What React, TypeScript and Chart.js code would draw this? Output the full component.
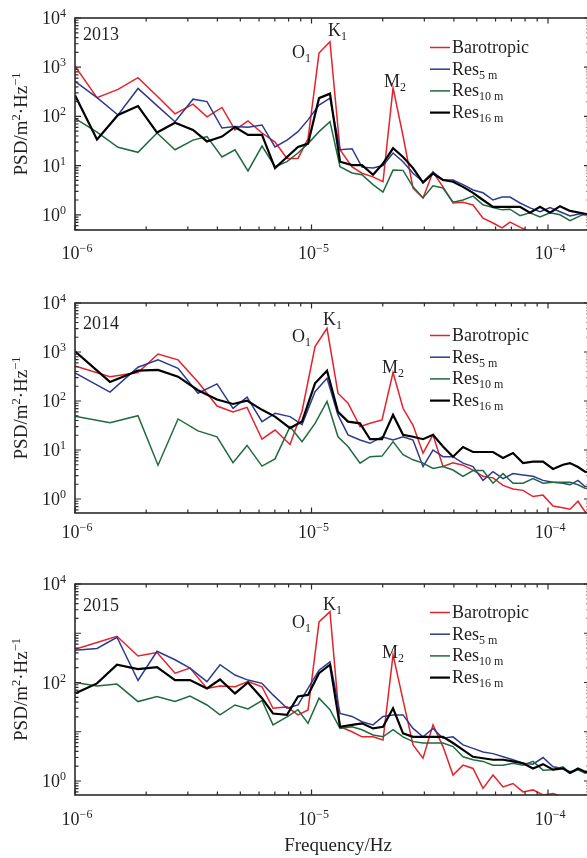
import React, { useEffect, useRef } from 'react';
import { Chart, registerables } from 'chart.js';

Chart.register(...registerables);

// ---------------- DATA ----------------
const seriesNames = ['Barotropic', 'Res', 'Res', 'Res'];
const seriesSubs = ['', '5 m', '10 m', '16 m'];
const years = ['2013', '2014', '2015'];
const tideLabels = [['O', '1'], ['K', '1'], ['M', '2']];
const xTickExps = [-6, -5, -4];
const yTickExps2013 = [0, 1, 2, 3, 4];
const yTickExps2014 = [0, 1, 2, 3, 4];
const yTickExps2015 = [0, 2, 4];

const freq2013 = [1.000e-6, 1.239e-6, 1.520e-6, 1.847e-6, 2.222e-6, 2.648e-6, 3.155e-6, 3.614e-6, 4.183e-6, 4.748e-6, 5.389e-6, 6.176e-6, 7.010e-6, 7.878e-6, 8.768e-6, 9.665e-6, 1.076e-5, 1.197e-5, 1.320e-5, 1.484e-5, 1.635e-5, 1.820e-5, 2.006e-5, 2.212e-5, 2.438e-5, 2.687e-5, 2.962e-5, 3.264e-5, 3.597e-5, 3.966e-5, 4.371e-5, 4.818e-5, 5.311e-5, 5.854e-5, 6.391e-5, 6.907e-5, 7.614e-5, 8.393e-5, 9.252e-5, 1.020e-4, 1.124e-4, 1.239e-4, 1.366e-4, 1.505e-4];
const baro2013 = [1050, 240, 355, 615, 260, 113, 178, 98, 152, 53, 81, 46, 30, 14, 14, 35, 1940, 3300, 21, 9.4, 7, 5.9, 4.7, 380, 40, 3.5, 2.2, 7.4, 3.7, 1.74, 1.8, 1.58, 0.85, 0.68, 0.54, 0.71, 0.56, 0.45, null, null, null, null, null, null];
const res5m2013 = [515, 240, 107, 370, 166, 78, 224, 200, 58, 62, 60, 67, 24, 33, 49, 85, 170, 235, 21, 22, 9.3, 8.9, 10, 18, 12, 7, 4.7, 7.4, 5.1, 5.1, 4.1, 3.2, 2.8, 2.0, 2.3, 2.3, 1.74, 1.38, 1.15, 1.4, 1.15, 0.95, 1.05, 1.0];
const res10m2013 = [91, 48, 23.5, 18.6, 46, 21, 33, 39, 15, 21, 7.8, 25, 9.5, 12, 18, 28, 49, 78, 9.5, 7.1, 6.5, 4.1, 2.9, 8.1, 8, 3.7, 2.2, 3.9, 3.5, 1.8, 2.0, 2.4, 1.6, 1.4, 1.26, 1.3, 0.96, 1.1, 0.9, 1.1, 1.0, 0.76, 0.95, 1.1];
const res16m2013 = [270, 34, 107, 162, 47, 74, 53, 31, 39, 61, 42, 42, 8.9, 15, 24, 28, 235, 290, 12, 10.2, 10.2, 6.5, 11, 22.5, 15, 8.9, 4.5, 6.9, 5.1, 4.7, 3.7, 2.8, 2.0, 1.45, 1.45, 1.45, 1.45, 1.1, 1.45, 1.1, 1.5, 1.2, 1.1, 1.0];

const freq2014 = [1.000e-6, 1.406e-6, 1.847e-6, 2.244e-6, 2.727e-6, 3.312e-6, 3.985e-6, 4.657e-6, 5.339e-6, 6.176e-6, 7.010e-6, 8.113e-6, 9.118e-6, 1.035e-5, 1.163e-5, 1.294e-5, 1.427e-5, 1.604e-5, 1.768e-5, 1.987e-5, 2.212e-5, 2.438e-5, 2.687e-5, 2.962e-5, 3.264e-5, 3.597e-5, 3.966e-5, 4.371e-5, 4.818e-5, 5.311e-5, 5.854e-5, 6.453e-5, 7.112e-5, 7.841e-5, 8.643e-5, 9.526e-5, 1.050e-4, 1.157e-4, 1.239e-4, 1.339e-4, 1.434e-4, 1.535e-4];
const baro2014 = [516, 314, 380, 910, 690, 245, 79, 60, 74, 16.6, 25.5, 13, 62, 1290, 3040, 144, 90, 30, 35, 41, 380, 71, 32, 8.6, 20.4, 4.6, 5.5, 4.9, 3.9, 2.9, 2.7, 1.9, 1.6, 1.5, 1.12, 1.2, 0.72, 0.66, 0.62, 0.9, 0.55, 0.45];
const res5m2014 = [373, 152, 490, 690, 466, 144, 223, 71, 120, 38, 56, 48, 33, 155, 290, 52, 20.4, 16, 13.7, 18.6, 16, 18.6, 16, 4.6, 10, 7.3, 7.3, 5.4, 4.6, 2.4, 3.6, 2.6, 3.3, 3.1, 2.9, 2.4, 2.2, 2.1, 1.95, 2.4, 1.8, 1.8];
const res10m2014 = [49, 36, 50, 4.9, 43, 24.5, 18.6, 5.5, 12.4, 4.7, 6.6, 30, 14.8, 35, 98, 18.6, 11.8, 5.4, 7.3, 7.5, 14.8, 8, 6.3, 5.4, 4.2, 4.6, 3.9, 2.9, 3.8, 3.8, 2.1, 3.3, 2.1, 2.1, 2.6, 2.1, 2.2, 2.2, 2.2, 1.95, 1.66, 1.6];
const res16m2014 = [1030, 245, 415, 430, 314, 166, 107, 87, 102, 66, 48, 28, 38, 230, 415, 60, 38, 35, 16.6, 16.6, 52, 20.4, 18.6, 16.6, 20.4, 11.8, 7.3, 11.5, 9.1, 9.1, 9.1, 6.9, 8.7, 5.4, 5.8, 5.8, 4.1, 5.0, 5.4, 4.5, 3.6, 3.5];

const freq2015 = [1.000e-6, 1.239e-6, 1.505e-6, 1.847e-6, 2.222e-6, 2.648e-6, 3.064e-6, 3.614e-6, 4.104e-6, 4.748e-6, 5.389e-6, 6.176e-6, 6.874e-6, 7.878e-6, 8.768e-6, 9.665e-6, 1.076e-5, 1.197e-5, 1.320e-5, 1.484e-5, 1.635e-5, 1.820e-5, 2.006e-5, 2.212e-5, 2.438e-5, 2.687e-5, 2.962e-5, 3.264e-5, 3.597e-5, 3.966e-5, 4.371e-5, 4.818e-5, 5.311e-5, 5.854e-5, 6.453e-5, 7.112e-5, 7.841e-5, 8.643e-5, 9.526e-5, 1.050e-4, 1.157e-4, 1.239e-4, 1.339e-4, 1.434e-4, 1.535e-4];
const baro2015 = [470, 650, 870, 345, 405, 155, 196, 76, 85, 82, 104, 82, 30, 32, 22, 27.6, 1700, 2750, 12.6, 10, 7.9, 7.9, 6.8, 365, 44, 5.4, 2.9, 13.8, 5.0, 1.32, 2.1, 1.8, 0.71, 1.32, 0.76, 0.89, 0.6, 0.66, 0.52, 0.56, 0.48, null, null, null, null];
const res5m2015 = [450, 490, 830, 110, 430, 290, 196, 104, 230, 142, 112, 96, 56, 30, 35, 76, 178, 263, 23.5, 20.5, 16, 13.8, 20.4, 22, 22, 11.7, 7.9, 11.7, 7.4, 7.9, 5.4, 4.6, 3.9, 3.6, 3.1, 2.7, 2.3, 2.2, 3.0, 1.95, 1.8, 1.55, 1.7, 1.45, 1.5];
const res10m2015 = [100, 85, 93, 41, 52, 41, 53, 35, 22, 35, 29, 43, 13.8, 20, 28, 14.8, 48, 28, 11.7, 12.6, 11, 8.6, 7.9, 11, 7.9, 6.3, 5.9, 5.9, 5.9, 5.0, 3.1, 2.7, 2.5, 2.1, 2.1, 2.3, 2.1, 2.5, 1.66, 1.7, 1.95, 1.45, 1.7, 1.45, 1.6];
const res16m2015 = [60, 96, 230, 187, 205, 112, 112, 76, 115, 60, 100, 48, 23.5, 22, 52, 56, 155, 230, 12.6, 13.8, 14.8, 11.7, 12.6, 30, 9.3, 7.9, 7.9, 7.9, 7.9, 5.9, 4.3, 3.1, 2.9, 2.7, 2.7, 2.5, 2.3, 1.8, 2.2, 1.7, 1.8, 1.45, 1.8, 1.55, 1.5];

const panelData = [
  { freq: freq2013, series: [baro2013, res5m2013, res10m2013, res16m2013], yTicks: yTickExps2013 },
  { freq: freq2014, series: [baro2014, res5m2014, res10m2014, res16m2014], yTicks: yTickExps2014 },
  { freq: freq2015, series: [baro2015, res5m2015, res10m2015, res16m2015], yTicks: yTickExps2015 },
];

// ---------------- STYLE / LAYOUT ----------------
const FONT = '"Liberation Serif", "Times New Roman", Times, serif';
const TEXT = '#231f20';
const seriesColors = ['#e3232c', '#2e3a8c', '#1f6a3e', '#000000'];
const seriesWidths = [1.5, 1.5, 1.5, 2.2];
const CANVAS_W = 600;
const X_MIN = 1e-6;
const X_MAX = 1.505e-4;

const layouts = [
  { top: 0, height: 280, padTop: 18, padBottom: 50, yMin: 0.491, yearBase: 40, legendBase: 53, xLabBase: 29,
    ann: [[292, 58], [328, 36], [384, 87]], xTitle: false },
  { top: 280, height: 280, padTop: 23, padBottom: 47, yMin: 0.518, yearBase: 49, legendBase: 61, xLabBase: 25,
    ann: [[292, 62], [323, 45], [382, 93]], xTitle: false },
  { top: 560, height: 298, padTop: 24, padBottom: 63, yMin: 0.52, yearBase: 51, legendBase: 58, xLabBase: 30,
    ann: [[292, 68], [323, 50], [382, 98]], xTitle: true },
];

type Seg = { t: string; size: number; dy: number };

function richWidth(ctx: CanvasRenderingContext2D, segs: Seg[]) {
  let w = 0;
  for (const s of segs) {
    ctx.font = `${s.size}px ${FONT}`;
    w += ctx.measureText(s.t).width;
  }
  return w;
}

function drawRich(ctx: CanvasRenderingContext2D, segs: Seg[], x: number, y: number) {
  let cx = x;
  ctx.textAlign = 'left';
  ctx.textBaseline = 'alphabetic';
  for (const s of segs) {
    ctx.font = `${s.size}px ${FONT}`;
    ctx.fillText(s.t, cx, y + s.dy);
    cx += ctx.measureText(s.t).width;
  }
}

function pow10Segs(e: number): Seg[] {
  const exp = e < 0 ? '\u2212' + String(-e) : String(e);
  return [{ t: '10', size: 18, dy: 0 }, { t: exp, size: 12, dy: -7 }];
}

function makePlugin(idx: number) {
  const L = layouts[idx];
  return {
    id: 'psdFrame' + idx,
    afterDatasetsDraw(chart: any) {
      const ctx: CanvasRenderingContext2D = chart.ctx;
      const { left, right, top, bottom } = chart.chartArea;
      const xs = chart.scales.x;
      const ys = chart.scales.y;
      ctx.save();
      // frame
      ctx.strokeStyle = '#2b2b2b';
      ctx.lineWidth = 1.6;
      ctx.strokeRect(left, top, right - left, bottom - top);
      // x ticks
      ctx.lineWidth = 1.2;
      for (let k = -6; k <= -4; k++) {
        for (let m = 1; m <= 9; m++) {
          const f = m * Math.pow(10, k);
          if (f < X_MIN * 0.999 || f > X_MAX) continue;
          const px = xs.getPixelForValue(f);
          const len = m === 1 ? 5.5 : 3.5;
          ctx.beginPath();
          ctx.moveTo(px, bottom); ctx.lineTo(px, bottom - len);
          ctx.moveTo(px, top); ctx.lineTo(px, top + len);
          ctx.stroke();
        }
      }
      // y ticks
      for (let k = -1; k <= 4; k++) {
        for (let m = 1; m <= 9; m++) {
          const v = m * Math.pow(10, k);
          if (v < L.yMin || v > 1e4 * 1.001) continue;
          const py = ys.getPixelForValue(v);
          const len = m === 1 ? 6 : 3.5;
          ctx.beginPath();
          ctx.moveTo(left, py); ctx.lineTo(left + len, py);
          ctx.moveTo(right, py); ctx.lineTo(right - len, py);
          ctx.stroke();
        }
      }
      ctx.fillStyle = TEXT;
      // y tick labels
      for (const e of panelData[idx].yTicks) {
        const py = ys.getPixelForValue(Math.pow(10, e));
        const segs = pow10Segs(e);
        const w = richWidth(ctx, segs);
        drawRich(ctx, segs, 66 - w, py + 6);
      }
      // x tick labels
      for (const e of xTickExps) {
        const px = xs.getPixelForValue(Math.pow(10, e));
        const segs = pow10Segs(e);
        const w = richWidth(ctx, segs);
        drawRich(ctx, segs, px - w / 2 + 2, bottom + L.xLabBase);
      }
      // y title (rotated)
      const tSegs: Seg[] = [
        { t: 'PSD/m', size: 19, dy: 0 },
        { t: '2', size: 12.5, dy: -7 },
        { t: '\u00b7Hz', size: 19, dy: 0 },
        { t: '\u22121', size: 12.5, dy: -7 },
      ];
      const tw = richWidth(ctx, tSegs);
      ctx.save();
      ctx.translate(27, (top + bottom) / 2);
      ctx.rotate(-Math.PI / 2);
      drawRich(ctx, tSegs, -tw / 2, 0);
      ctx.restore();
      // year
      drawRich(ctx, [{ t: years[idx], size: 18, dy: 0 }], 83, L.yearBase);
      // tidal constituent labels
      tideLabels.forEach((lab, i) => {
        drawRich(ctx, [{ t: lab[0], size: 18, dy: 0 }, { t: lab[1], size: 12, dy: 4 }], L.ann[i][0], L.ann[i][1]);
      });
      // legend
      for (let i = 0; i < 4; i++) {
        const by = L.legendBase + i * 21.7;
        ctx.strokeStyle = seriesColors[i];
        ctx.lineWidth = seriesWidths[i];
        ctx.beginPath();
        ctx.moveTo(430, by - 5.5);
        ctx.lineTo(450, by - 5.5);
        ctx.stroke();
        const segs: Seg[] = [{ t: seriesNames[i], size: 18, dy: 0 }];
        if (seriesSubs[i]) segs.push({ t: seriesSubs[i], size: 12, dy: 4 });
        drawRich(ctx, segs, 452, by);
      }
      // x title
      if (L.xTitle) {
        ctx.font = `19px ${FONT}`;
        ctx.textAlign = 'center';
        ctx.fillText('Frequency/Hz', 338, 291);
      }
      ctx.restore();
    },
  };
}

function Panel({ idx }: { idx: number }) {
  const ref = useRef<HTMLCanvasElement>(null);
  const L = layouts[idx];
  useEffect(() => {
    const pd = panelData[idx];
    const datasets = pd.series.map((vals, i) => ({
      label: seriesNames[i] + seriesSubs[i],
      data: pd.freq.map((f, j) => ({ x: f, y: vals[j] })),
      borderColor: seriesColors[i],
      backgroundColor: seriesColors[i],
      borderWidth: seriesWidths[i],
      pointRadius: 0,
      tension: 0,
      fill: false,
      order: i === 0 ? 4 : 4 - i,
    }));
    const chart = new Chart(ref.current as HTMLCanvasElement, {
      type: 'line',
      data: { datasets } as any,
      options: {
        animation: false,
        responsive: false,
        devicePixelRatio: 1,
        layout: { padding: { left: 75, right: CANVAS_W - 590, top: L.padTop, bottom: L.padBottom } },
        scales: {
          x: { type: 'logarithmic', min: X_MIN, max: X_MAX, display: false },
          y: { type: 'logarithmic', min: L.yMin, max: 1e4, display: false },
        },
        plugins: { legend: { display: false }, tooltip: { enabled: false } },
        events: [],
      } as any,
      plugins: [makePlugin(idx)],
    });
    return () => chart.destroy();
  }, [idx]);
  return (
    <canvas
      ref={ref}
      width={CANVAS_W}
      height={L.height}
      style={{ position: 'absolute', left: 0, top: L.top, width: CANVAS_W, height: L.height }}
    />
  );
}

export default function App() {
  return (
    <div style={{ position: 'absolute', left: 0, top: 0, width: 587, height: 858, overflow: 'hidden', background: '#fff' }}>
      <Panel idx={0} />
      <Panel idx={1} />
      <Panel idx={2} />
    </div>
  );
}
